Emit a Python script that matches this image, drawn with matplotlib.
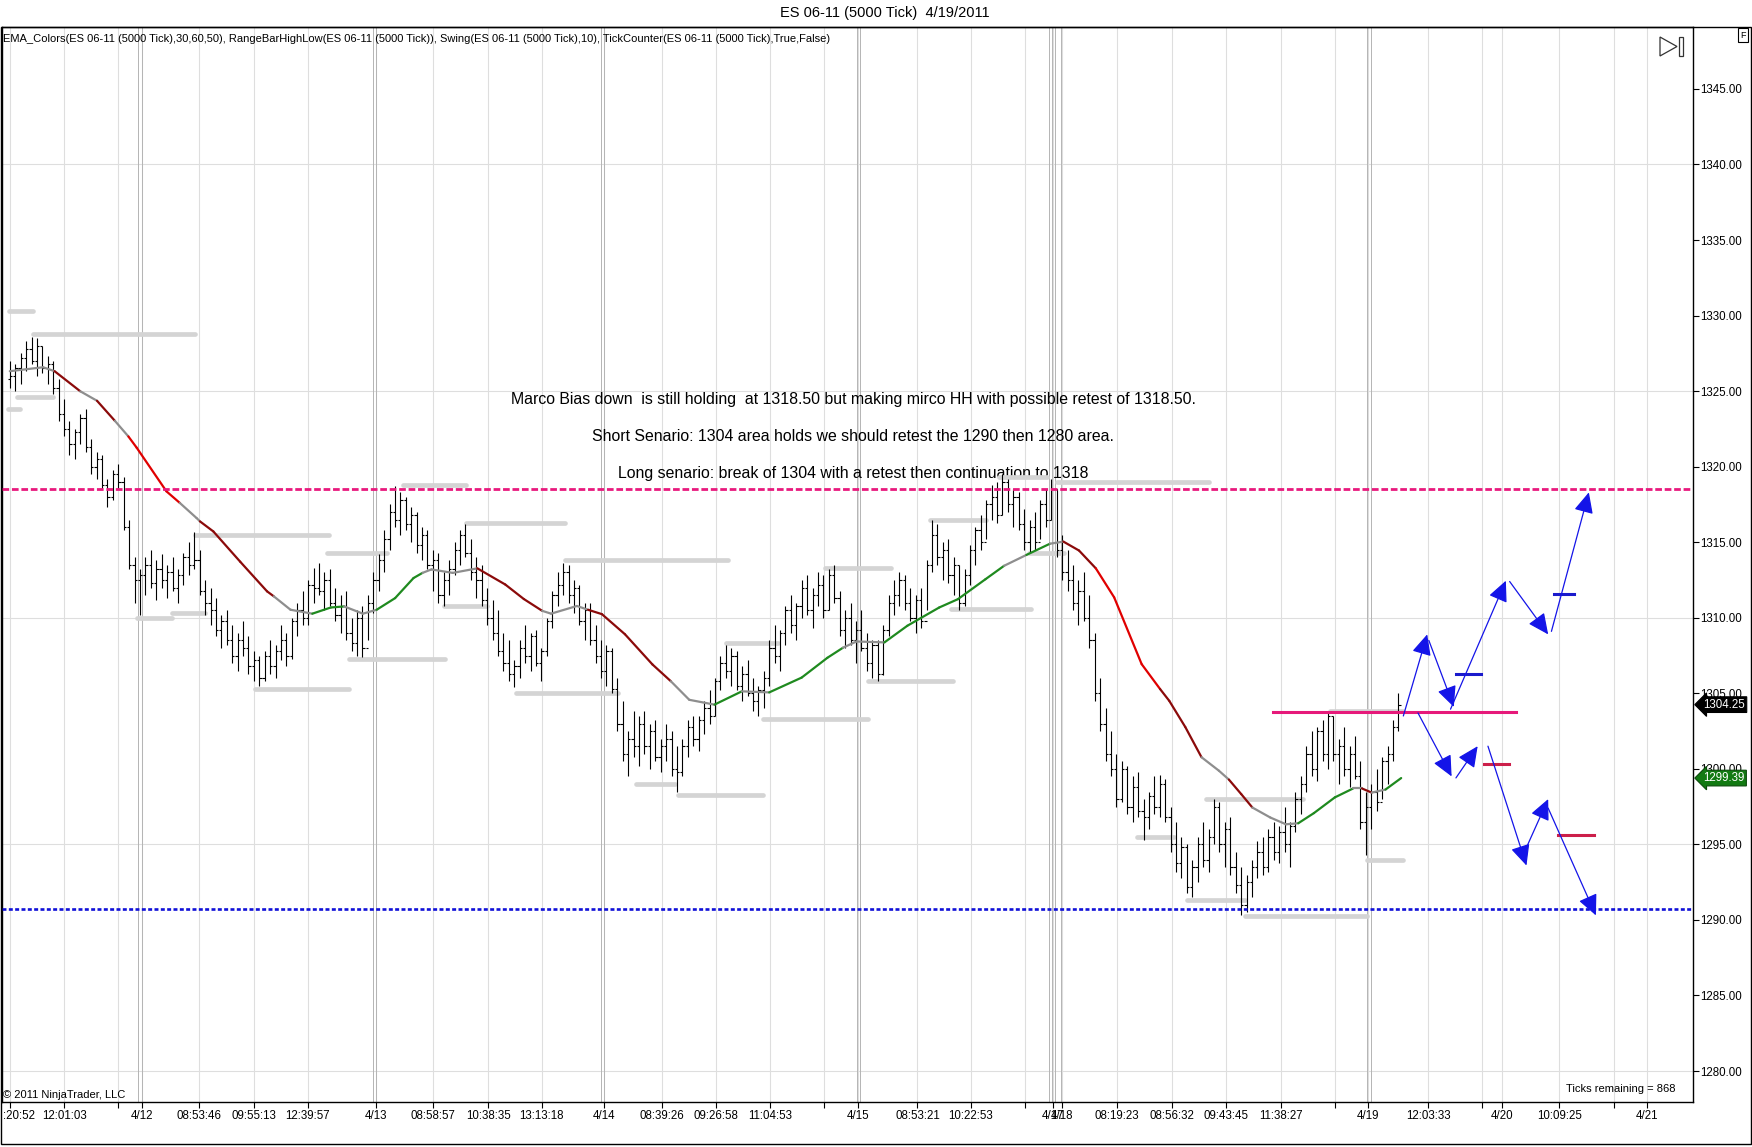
import matplotlib
matplotlib.use('Agg')
import matplotlib.pyplot as plt
import matplotlib.transforms as mtransforms
from matplotlib.collections import LineCollection
from matplotlib.patches import Rectangle, Polygon, FancyArrowPatch
import numpy as np

plt.rcParams['font.family'] = ['Liberation Sans', 'DejaVu Sans']

# ---- data (x = bar number, y = price) ----
first_open = 1325.8
highs = [
    1327.0, 1326.8, 1327.5, 1328.3, 1328.6, 1328.5, 1328.0, 1327.3, 1327.0, 1325.8,
    1324.5, 1323.0, 1322.5, 1323.5, 1323.8, 1321.8, 1321.0, 1320.8, 1319.2, 1319.8,
    1320.2, 1319.3, 1316.5, 1314.0, 1313.2, 1314.0, 1314.5, 1313.8, 1314.2, 1313.5,
    1314.0, 1313.2, 1314.3, 1315.0, 1315.7, 1314.5, 1312.5, 1312.0, 1311.3, 1310.2,
    1310.5, 1309.5, 1309.0, 1309.8, 1308.8, 1307.8, 1307.5, 1307.8, 1308.5, 1308.2,
    1309.5, 1309.0, 1310.0, 1311.0, 1311.8, 1312.5, 1313.3, 1313.6, 1313.0, 1313.2,
    1312.0, 1311.5, 1311.8, 1310.0, 1310.5, 1310.8, 1311.5, 1313.0, 1314.2, 1315.8,
    1317.5, 1318.7, 1318.3, 1318.0, 1317.3, 1317.0, 1316.0, 1315.8, 1314.5, 1314.3,
    1313.0, 1313.8, 1315.0, 1315.8, 1316.2, 1315.2, 1314.0, 1313.5, 1312.0, 1311.2,
    1310.5, 1309.0, 1308.5, 1307.2, 1308.5, 1309.5, 1309.0, 1309.2, 1308.0, 1310.0,
    1311.8, 1313.0, 1313.6, 1313.5, 1312.5, 1312.2, 1311.0, 1311.0, 1309.5, 1308.5,
    1308.2, 1308.0, 1306.0, 1304.5, 1302.5, 1303.8, 1303.5, 1303.8, 1303.0, 1303.2,
    1302.0, 1303.0, 1302.5, 1301.5, 1302.0, 1303.2, 1303.5, 1303.5, 1304.5, 1305.2,
    1306.0, 1307.5, 1308.2, 1308.0, 1307.8, 1306.8, 1307.2, 1306.0, 1305.5, 1306.5,
    1308.5, 1309.5, 1309.2, 1310.8, 1311.5, 1311.0, 1312.5, 1312.8, 1312.0, 1313.0,
    1312.8, 1313.2, 1313.5, 1311.8, 1310.5, 1311.0, 1309.8, 1310.5, 1309.0, 1308.5,
    1308.5, 1309.5, 1311.5, 1312.5, 1313.0, 1312.8, 1312.0, 1311.5, 1312.0, 1313.8,
    1316.5, 1316.2, 1315.0, 1315.2, 1314.0, 1313.5, 1313.2, 1314.8, 1316.0, 1316.8,
    1317.8, 1318.8, 1319.0, 1319.5, 1319.2, 1318.5, 1318.3, 1317.2, 1316.5, 1317.0,
    1317.8, 1318.5, 1319.2, 1318.5, 1315.5, 1314.5, 1313.5, 1312.5, 1313.0, 1311.5,
    1309.0, 1306.0, 1304.0, 1302.5, 1301.0, 1300.5, 1300.2, 1299.5, 1299.8, 1298.0,
    1298.5, 1299.5, 1299.6, 1299.3, 1297.5, 1296.5, 1295.5, 1295.0, 1294.0, 1295.5,
    1296.5, 1296.0, 1298.0, 1297.8, 1296.5, 1296.8, 1294.5, 1293.5, 1293.0, 1294.0,
    1295.2, 1295.5, 1296.0, 1296.5, 1296.2, 1297.5, 1296.5, 1298.5, 1299.5, 1301.5,
    1302.5, 1302.8, 1303.2, 1303.8, 1303.5, 1302.0, 1302.8, 1301.5, 1302.2, 1300.5,
    1298.5, 1299.0, 1300.0, 1300.8, 1301.5, 1303.2, 1305.0,
]
lows = [
    1325.2, 1325.0, 1325.5, 1326.3, 1326.8, 1326.0, 1326.2, 1325.5, 1324.8, 1323.0,
    1322.0, 1320.8, 1320.5, 1321.5, 1321.0, 1319.5, 1319.2, 1318.5, 1317.3, 1317.8,
    1318.5, 1315.8, 1313.2, 1311.0, 1310.2, 1311.5, 1312.0, 1311.2, 1312.0, 1311.3,
    1311.8, 1311.0, 1312.2, 1312.8, 1313.2, 1311.5, 1310.2, 1309.5, 1308.8, 1308.0,
    1308.2, 1307.0, 1306.5, 1307.5, 1306.3, 1305.8, 1305.5, 1305.8, 1306.3, 1306.0,
    1307.2, 1306.8, 1307.3, 1308.8, 1309.5, 1309.5, 1311.0, 1311.5, 1310.5, 1310.8,
    1309.8, 1309.0, 1308.5, 1307.8, 1307.5, 1307.4, 1308.5, 1310.3, 1311.8, 1313.0,
    1314.5, 1316.0, 1315.5, 1315.8, 1315.0, 1314.3, 1313.8, 1313.2, 1311.8, 1311.0,
    1310.8, 1311.5, 1312.8, 1313.5, 1314.0, 1312.5, 1311.3, 1310.8, 1309.5, 1308.5,
    1307.5, 1306.5, 1305.8, 1305.4, 1306.0, 1307.0, 1306.5, 1306.8, 1305.8, 1307.5,
    1309.3, 1310.8, 1311.5, 1311.0, 1310.3, 1309.5, 1308.5, 1308.2, 1307.0, 1306.0,
    1305.5, 1305.0, 1302.5, 1300.5, 1299.5, 1300.8, 1300.2, 1301.0, 1300.0, 1300.5,
    1299.8, 1300.5, 1299.5, 1298.5, 1299.5, 1300.8, 1301.5, 1301.2, 1302.3, 1303.0,
    1303.5, 1305.2, 1306.0, 1305.5, 1305.2, 1304.5, 1304.8, 1303.8, 1303.5, 1304.0,
    1305.5, 1307.0, 1306.5, 1308.2, 1309.0, 1308.5, 1310.0, 1310.2, 1309.3, 1310.8,
    1310.0, 1310.5, 1311.0, 1308.8, 1308.0, 1308.2, 1307.0, 1307.8, 1306.5, 1306.0,
    1305.8, 1306.2, 1308.8, 1310.2, 1310.8, 1310.5, 1309.8, 1309.0, 1309.3, 1310.5,
    1313.0, 1313.5, 1312.5, 1312.3, 1311.5, 1310.5, 1310.8, 1312.2, 1313.5, 1314.5,
    1315.2, 1316.5, 1316.3, 1316.8, 1317.0, 1316.0, 1315.8, 1314.5, 1314.3, 1314.5,
    1315.2, 1316.0, 1316.5, 1314.0, 1312.5, 1311.8, 1310.5, 1309.5, 1309.8, 1308.0,
    1304.5, 1302.5, 1300.5, 1299.5, 1297.5, 1297.8, 1297.0, 1296.5, 1296.8, 1295.3,
    1296.0, 1297.0, 1296.8, 1296.5, 1294.5, 1293.2, 1292.8, 1291.8, 1291.5, 1292.5,
    1293.5, 1293.2, 1295.0, 1294.5, 1293.5, 1293.0, 1291.8, 1290.3, 1290.5, 1291.5,
    1292.8, 1293.0, 1293.2, 1294.0, 1293.8, 1294.5, 1293.5, 1295.8, 1297.0, 1298.5,
    1299.5, 1299.2, 1300.5, 1300.0, 1300.5, 1299.0, 1299.5, 1298.8, 1299.3, 1296.0,
    1294.3, 1296.0, 1297.2, 1298.0, 1299.0, 1300.5, 1302.5,
]
closes = [
    1326.0, 1326.5, 1327.2, 1327.8, 1327.0, 1328.0, 1326.5, 1326.8, 1325.2, 1323.5,
    1322.5, 1321.5, 1322.3, 1323.2, 1321.3, 1320.0, 1320.5, 1318.8, 1318.0, 1319.5,
    1319.0, 1316.0, 1313.5, 1312.5, 1312.8, 1313.5, 1312.3, 1313.2, 1312.5, 1313.0,
    1312.0, 1312.8, 1314.0, 1313.5, 1313.8, 1311.8, 1311.0, 1310.5, 1309.2, 1309.8,
    1308.5, 1307.5, 1308.5, 1308.0, 1306.8, 1307.2, 1306.0, 1307.5, 1306.8, 1307.8,
    1308.5, 1307.5, 1309.8, 1310.5, 1310.0, 1312.2, 1312.0, 1311.8, 1312.5, 1311.0,
    1310.2, 1310.8, 1309.0, 1308.3, 1310.0, 1308.0, 1311.0, 1312.5, 1313.8, 1315.2,
    1317.0, 1316.5, 1317.8, 1316.2, 1316.8, 1314.8, 1315.5, 1313.5, 1313.8, 1311.5,
    1312.5, 1313.2, 1314.5, 1315.5, 1314.3, 1313.0, 1312.5, 1311.2, 1310.0, 1309.0,
    1307.8, 1307.0, 1306.3, 1306.8, 1308.0, 1307.5, 1308.8, 1307.0, 1307.8, 1309.8,
    1311.5, 1312.2, 1313.0, 1311.5, 1312.0, 1309.8, 1310.5, 1308.5, 1307.5, 1306.5,
    1307.8, 1305.3, 1303.0, 1301.0, 1302.0, 1301.5, 1303.0, 1301.5, 1302.5, 1300.8,
    1301.5, 1302.0, 1300.0, 1299.8, 1301.5, 1302.8, 1302.0, 1303.2, 1304.0, 1303.5,
    1305.8, 1307.0, 1306.5, 1307.5, 1305.5, 1306.3, 1305.0, 1304.5, 1305.2, 1306.0,
    1308.0, 1307.5, 1309.0, 1310.5, 1309.5, 1310.8, 1312.0, 1310.5, 1311.5, 1312.2,
    1310.5, 1312.8, 1311.3, 1309.2, 1310.0, 1308.5, 1309.2, 1308.0, 1307.0, 1308.2,
    1306.3, 1309.2, 1311.0, 1311.5, 1312.5, 1311.0, 1310.0, 1311.2, 1309.8, 1313.5,
    1315.5, 1314.0, 1314.5, 1312.8, 1313.5, 1311.0, 1312.8, 1314.5, 1315.8, 1315.0,
    1317.5, 1318.0, 1316.8, 1319.0, 1317.5, 1318.0, 1316.2, 1315.0, 1316.0, 1315.0,
    1317.5, 1316.5, 1318.5, 1314.5, 1313.0, 1312.5, 1311.0, 1311.8, 1310.0, 1308.5,
    1305.0, 1303.0, 1301.0, 1300.0, 1298.0, 1300.0, 1297.5, 1298.8, 1297.2, 1296.8,
    1298.2, 1297.5, 1299.0, 1296.8, 1295.0, 1293.8, 1294.8, 1292.2, 1293.5, 1295.0,
    1294.0, 1295.5, 1297.5, 1295.0, 1296.0, 1293.5, 1292.3, 1291.0, 1292.5, 1293.5,
    1294.5, 1293.5, 1295.5, 1294.5, 1295.8, 1295.0, 1296.2, 1298.0, 1299.0, 1301.0,
    1300.0, 1302.5, 1301.0, 1303.5, 1301.0, 1301.5, 1300.0, 1301.0, 1299.5, 1296.5,
    1297.5, 1298.5, 1297.8, 1300.5, 1301.0, 1302.8, 1304.25,
]
opens = [first_open] + closes[:-1]

# EMA_Colors line: sample points and the trend colour of the piece that follows
ema_bar = [0.0, 6.14, 8.25, 12.99, 16.08, 19.38, 21.86, 23.38, 28.87, 31.34,
           34.43, 35.05, 37.53, 42.47, 47.42, 48.66, 51.75, 55.77, 59.18, 61.65,
           65.09, 67.63, 71.03, 74.43, 76.08, 77.73, 81.65, 86.19, 91.34, 94.76,
           98.14, 99.79, 104.54, 106.6, 109.15, 113.4, 118.47, 121.86, 125.26, 129.9,
           134.95, 140.0, 145.98, 150.72, 153.61, 156.08, 161.24, 165.46, 171.34, 174.78,
           179.86, 183.3, 187.42, 191.75, 194.23, 197.11, 200.21, 203.59, 208.66, 212.06,
           213.75, 216.7, 219.69, 222.89, 224.74, 227.01, 229.07, 232.37, 235.26, 237.53,
           240.41, 244.27, 247.63, 249.28, 251.05, 253.61, 256.5]
ema_val = [1326.32, 1326.58, 1326.32, 1324.99, 1324.36, 1323.03, 1322.0, 1321.26, 1318.37, 1317.6,
           1316.6, 1316.38, 1315.71, 1313.71, 1311.75, 1311.42, 1310.53, 1310.27, 1310.68, 1310.75,
           1310.27, 1310.53, 1311.3, 1312.63, 1312.97, 1313.2, 1312.97, 1313.27, 1312.2, 1311.24,
           1310.46, 1310.27, 1310.78, 1310.53, 1310.24, 1308.91, 1306.91, 1305.8, 1304.57, 1304.25,
           1305.13, 1305.06, 1306.04, 1307.35, 1308.02, 1308.43, 1308.37, 1309.47, 1310.68, 1311.23,
           1312.55, 1313.44, 1314.16, 1314.9, 1315.04, 1314.45, 1313.27, 1311.35, 1306.93, 1305.28,
           1304.5, 1302.77, 1300.77, 1299.88, 1299.29, 1298.33, 1297.44, 1296.78, 1296.33, 1296.4,
           1297.07, 1298.11, 1298.7, 1298.7, 1298.43, 1298.63, 1299.39]
ema_trend = ['flat', 'flat', 'down', 'flat', 'down', 'flat', 'fall', 'fall', 'fall', 'flat',
             'flat', 'down', 'down', 'down', 'down', 'flat', 'flat', 'up', 'up', 'flat',
             'flat', 'up', 'up', 'up', 'flat', 'flat', 'flat', 'down', 'down', 'down',
             'flat', 'flat', 'flat', 'down', 'down', 'down', 'down', 'flat', 'flat', 'up',
             'flat', 'up', 'up', 'up', 'flat', 'flat', 'up', 'up', 'up', 'up',
             'up', 'flat', 'up', 'flat', 'down', 'down', 'fall', 'fall', 'fall', 'down',
             'down', 'down', 'flat', 'flat', 'down', 'down', 'flat', 'flat', 'flat', 'up',
             'up', 'up', 'flat', 'down', 'flat', 'up']

# RangeBarHighLow / Swing levels: start bar, end bar, price
swing_start = [-0.2, 4.3, 1.3, -0.3, 23.5, 29.9, 34.1, 45.2, 58.5, 62.5, 72.4, 80.0, 84.1,
               93.4, 102.3, 115.5, 123.1, 132.0, 138.8, 150.2, 158.2, 169.7, 173.5, 182.4,
               193.0, 187.9, 207.8, 217.1, 220.5, 227.8, 243.4, 250.2]
swing_end = [4.3, 34.2, 8.0, 1.9, 29.9, 35.9, 58.8, 62.5, 69.5, 80.2, 84.1, 88.0, 102.3,
             112.2, 132.4, 122.7, 138.8, 141.6, 158.2, 162.5, 173.8, 179.9, 188.2, 191.3,
             221.0, 194.3, 214.6, 227.8, 238.4, 250.2, 256.9, 256.9]
swing_price = [1330.3, 1328.8, 1324.6, 1323.8, 1310.0, 1310.3, 1315.5, 1305.3, 1314.3, 1307.3,
               1318.8, 1310.8, 1316.3, 1305.05, 1313.85, 1299.0, 1298.3, 1308.3, 1303.3, 1313.3,
               1305.8, 1316.5, 1310.55, 1319.3, 1319.0, 1314.3, 1295.5, 1291.3, 1298.0, 1290.25,
               1303.85, 1294.0]

macro_level = 1318.5
support_level = 1290.75
pivot_level = 1303.75
pivot_start, pivot_end = 232.8, 277.7

# drawn scenario arrows: from (bar, price) to (bar, price)
arrow_x0 = [256.9, 261.6, 265.6, 276.5, 284.2, 259.6, 266.6, 272.5, 279.6, 283.6]
arrow_p0 = [1303.5, 1308.5, 1303.95, 1312.4, 1309.1, 1303.7, 1299.4, 1301.5, 1294.8, 1297.4]
arrow_x1 = [261.3, 266.2, 275.8, 283.6, 291.1, 265.8, 270.6, 279.6, 283.6, 292.4]
arrow_p1 = [1308.9, 1304.1, 1312.45, 1308.9, 1318.3, 1299.5, 1301.5, 1293.6, 1298.0, 1290.3]

target_start = [266.6, 284.7, 271.8, 285.4]
target_end = [271.3, 288.4, 276.3, 292.0]
target_price = [1306.3, 1311.55, 1300.35, 1295.6]
target_side = ['long', 'long', 'short', 'short']

tick_pos = [0.0, 10.06, 20.0, 24.33, 34.91, 44.95, 54.91, 67.42, 78.04, 88.19, 98.04,
            109.48, 120.21, 130.21, 140.1, 150.1, 156.39, 167.32, 177.18, 187.24, 192.23,
            193.9, 204.16, 214.33, 224.29, 234.27, 244.23, 250.45, 261.46, 271.32, 275.15,
            285.65, 295.71, 301.73]
tick_lab = ['', '12:01:03', '', '4/12', '08:53:46', '09:55:13', '12:39:57', '4/13',
            '08:58:57', '10:38:35', '13:13:18', '4/14', '08:39:26', '09:26:58', '11:04:53',
            '', '4/15', '08:53:21', '10:22:53', '', '4/17', '4/18', '08:19:23', '08:56:32',
            '09:43:45', '11:38:27', '', '4/19', '12:03:33', '', '4/20', '10:09:25', '', '4/21']
session_breaks = [23.7, 24.33, 67.0, 67.42, 109.07, 109.6, 156.16, 156.7,
                  191.5, 192.1, 192.7, 193.8, 250.2, 250.85]

notes = ['Marco Bias down  is still holding  at 1318.50 but making mirco HH with possible retest of 1318.50.',
         'Short Senario: 1304 area holds we should retest the 1290 then 1280 area.',
         'Long senario: break of 1304 with a retest then continuation to 1318']
notes_price = [1324.44, 1322.0, 1319.56]

# ---- figure ----
W, H = 1752, 1147
fig = plt.figure(figsize=(W / 100, H / 100), dpi=100)
ax = fig.add_axes([2 / W, 1 - 1102 / H, 1691 / W, 1075 / H])
ax.set_xlim(-1.44, 310.3)
ax.set_ylim(1277.95, 1349.10)

for s in ax.spines.values():
    s.set_color('black')
    s.set_linewidth(1.0)

# grid
for y in [1280, 1295, 1310, 1325, 1340]:
    ax.axhline(y, color='#dedede', lw=0.8, zorder=0)
for x in tick_pos:
    ax.axvline(x, color='#dedede', lw=0.8, zorder=0)
for x in session_breaks:
    ax.axvline(x, color='#b4b4b4', lw=0.7, zorder=0.5)

# notes sit underneath the price bars
for txt, p in zip(notes, notes_price):
    ax.text(155.46, p, txt, ha='center', va='center', fontsize=11.4, color='black', zorder=1)

# swing levels
for x0, x1, p in zip(swing_start, swing_end, swing_price):
    ax.plot([x0, x1], [p, p], color='#d4d4d4', lw=3.4, solid_capstyle='round', zorder=2)

# OHLC bars
idx = np.arange(len(highs))
segs = []
for i in idx:
    segs.append([(i, lows[i]), (i, highs[i])])
    segs.append([(i - 0.42, opens[i]), (i, opens[i])])
    segs.append([(i, closes[i]), (i + 0.42, closes[i])])
ax.add_collection(LineCollection(segs, colors='black', linewidths=0.8, zorder=3))

# EMA coloured by trend
trend_color = {'flat': '#8e8e8e', 'down': '#8b0a0a', 'fall': '#e00000', 'up': '#1f8a1f'}
ema_segs = [[(ema_bar[k], ema_val[k]), (ema_bar[k + 1], ema_val[k + 1])] for k in range(len(ema_bar) - 1)]
ema_cols = [trend_color[t] for t in ema_trend]
ax.add_collection(LineCollection(ema_segs, colors=ema_cols, linewidths=1.6, zorder=4,
                                 capstyle='round'))

# horizontal levels
l1, = ax.plot(ax.get_xlim(), [macro_level] * 2, color='#e8197d', lw=2.0, zorder=5)
l1.set_dashes((2.4, 1.0))
l2, = ax.plot(ax.get_xlim(), [support_level] * 2, color='#1010d8', lw=1.9, zorder=5)
l2.set_dashes((1.5, 0.9))
ax.plot([pivot_start, pivot_end], [pivot_level] * 2, color='#e6197a', lw=2.2, zorder=5)

# targets
side_color = {'long': '#1a1acc', 'short': '#cc1f4a'}
for x0, x1, p, sd in zip(target_start, target_end, target_price, target_side):
    ax.plot([x0, x1], [p, p], color=side_color[sd], lw=2.2, zorder=5)

# scenario arrows
for x0, p0, x1, p1 in zip(arrow_x0, arrow_p0, arrow_x1, arrow_p1):
    ax.add_patch(FancyArrowPatch((x0, p0), (x1, p1),
                                 arrowstyle='-|>,head_length=0.85,head_width=0.4',
                                 mutation_scale=15, color='#1414e8', lw=0.9,
                                 shrinkA=0, shrinkB=0, zorder=6))

# axes ticks
ax.yaxis.tick_right()
ax.set_yticks(np.arange(1280, 1346, 5))
ax.set_yticklabels(['%.2f' % v for v in np.arange(1280, 1346, 5)])
ax.tick_params(axis='y', direction='out', length=4, width=0.8, pad=1, labelsize=8.3, colors='black')
ax.set_xticks(tick_pos)
ax.set_xticklabels(tick_lab)
ax.tick_params(axis='x', direction='out', length=4.5, width=0.8, pad=1.5, labelsize=8.3)

# price tags
blend = mtransforms.blended_transform_factory(ax.transAxes, ax.transData)
ax.text(1.006, closes[-1], '%.2f' % closes[-1], transform=blend, ha='left', va='center',
        fontsize=8.3, color='white', clip_on=False, zorder=10,
        bbox=dict(boxstyle='larrow,pad=0.16', fc='black', ec='black', lw=0.8))
ax.text(1.006, ema_val[-1], '%.2f' % ema_val[-1], transform=blend, ha='left', va='center',
        fontsize=8.3, color='white', clip_on=False, zorder=10,
        bbox=dict(boxstyle='larrow,pad=0.16', fc='#127a12', ec='#0a4a0a', lw=0.8))

# chrome texts
fig.text(885 / W, 1 - 13 / H, 'ES 06-11 (5000 Tick)  4/19/2011', ha='center', va='center', fontsize=10.5)
fig.text(3 / W, 1 - 39 / H,
         'EMA_Colors(ES 06-11 (5000 Tick),30,60,50), RangeBarHighLow(ES 06-11 (5000 Tick)), '
         'Swing(ES 06-11 (5000 Tick),10), TickCounter(ES 06-11 (5000 Tick),True,False)',
         ha='left', va='center', fontsize=8)
fig.text(3 / W, 1 - 1095 / H, '\u00a9 2011 NinjaTrader, LLC', ha='left', va='center', fontsize=8)
fig.text(1676 / W, 1 - 1089 / H, 'Ticks remaining = 868', ha='right', va='center', fontsize=8)
fig.text(3 / W, 1 - 1116 / H, ':20:52', ha='left', va='center', fontsize=8.3)
fig.text(1743 / W, 1 - 35 / H, 'F', ha='center', va='center', fontsize=6.5,
         bbox=dict(boxstyle='square,pad=0.25', fc='white', ec='black', lw=0.8))

# "scroll to end" icon
def ax_frac(px, py):
    return ((px - 2) / 1691, (1102 - py) / 1075)
ax.add_patch(Polygon([ax_frac(1660, 37), ax_frac(1660, 56), ax_frac(1677, 46.5)], closed=True,
                     fill=False, ec='#333333', lw=0.9, transform=ax.transAxes, zorder=7))
ax.add_patch(Polygon([ax_frac(1679, 37), ax_frac(1683, 37), ax_frac(1683, 56), ax_frac(1679, 56)],
                     closed=True, fill=False, ec='#333333', lw=0.9, transform=ax.transAxes, zorder=7))

# outer frame
fig.patches.append(Rectangle((1 / W, 1 - 1144 / H), 1750 / W, 1117 / H, transform=fig.transFigure,
                             fill=False, ec='black', lw=1.0))

fig.savefig('out.png', dpi=100, facecolor='white')
